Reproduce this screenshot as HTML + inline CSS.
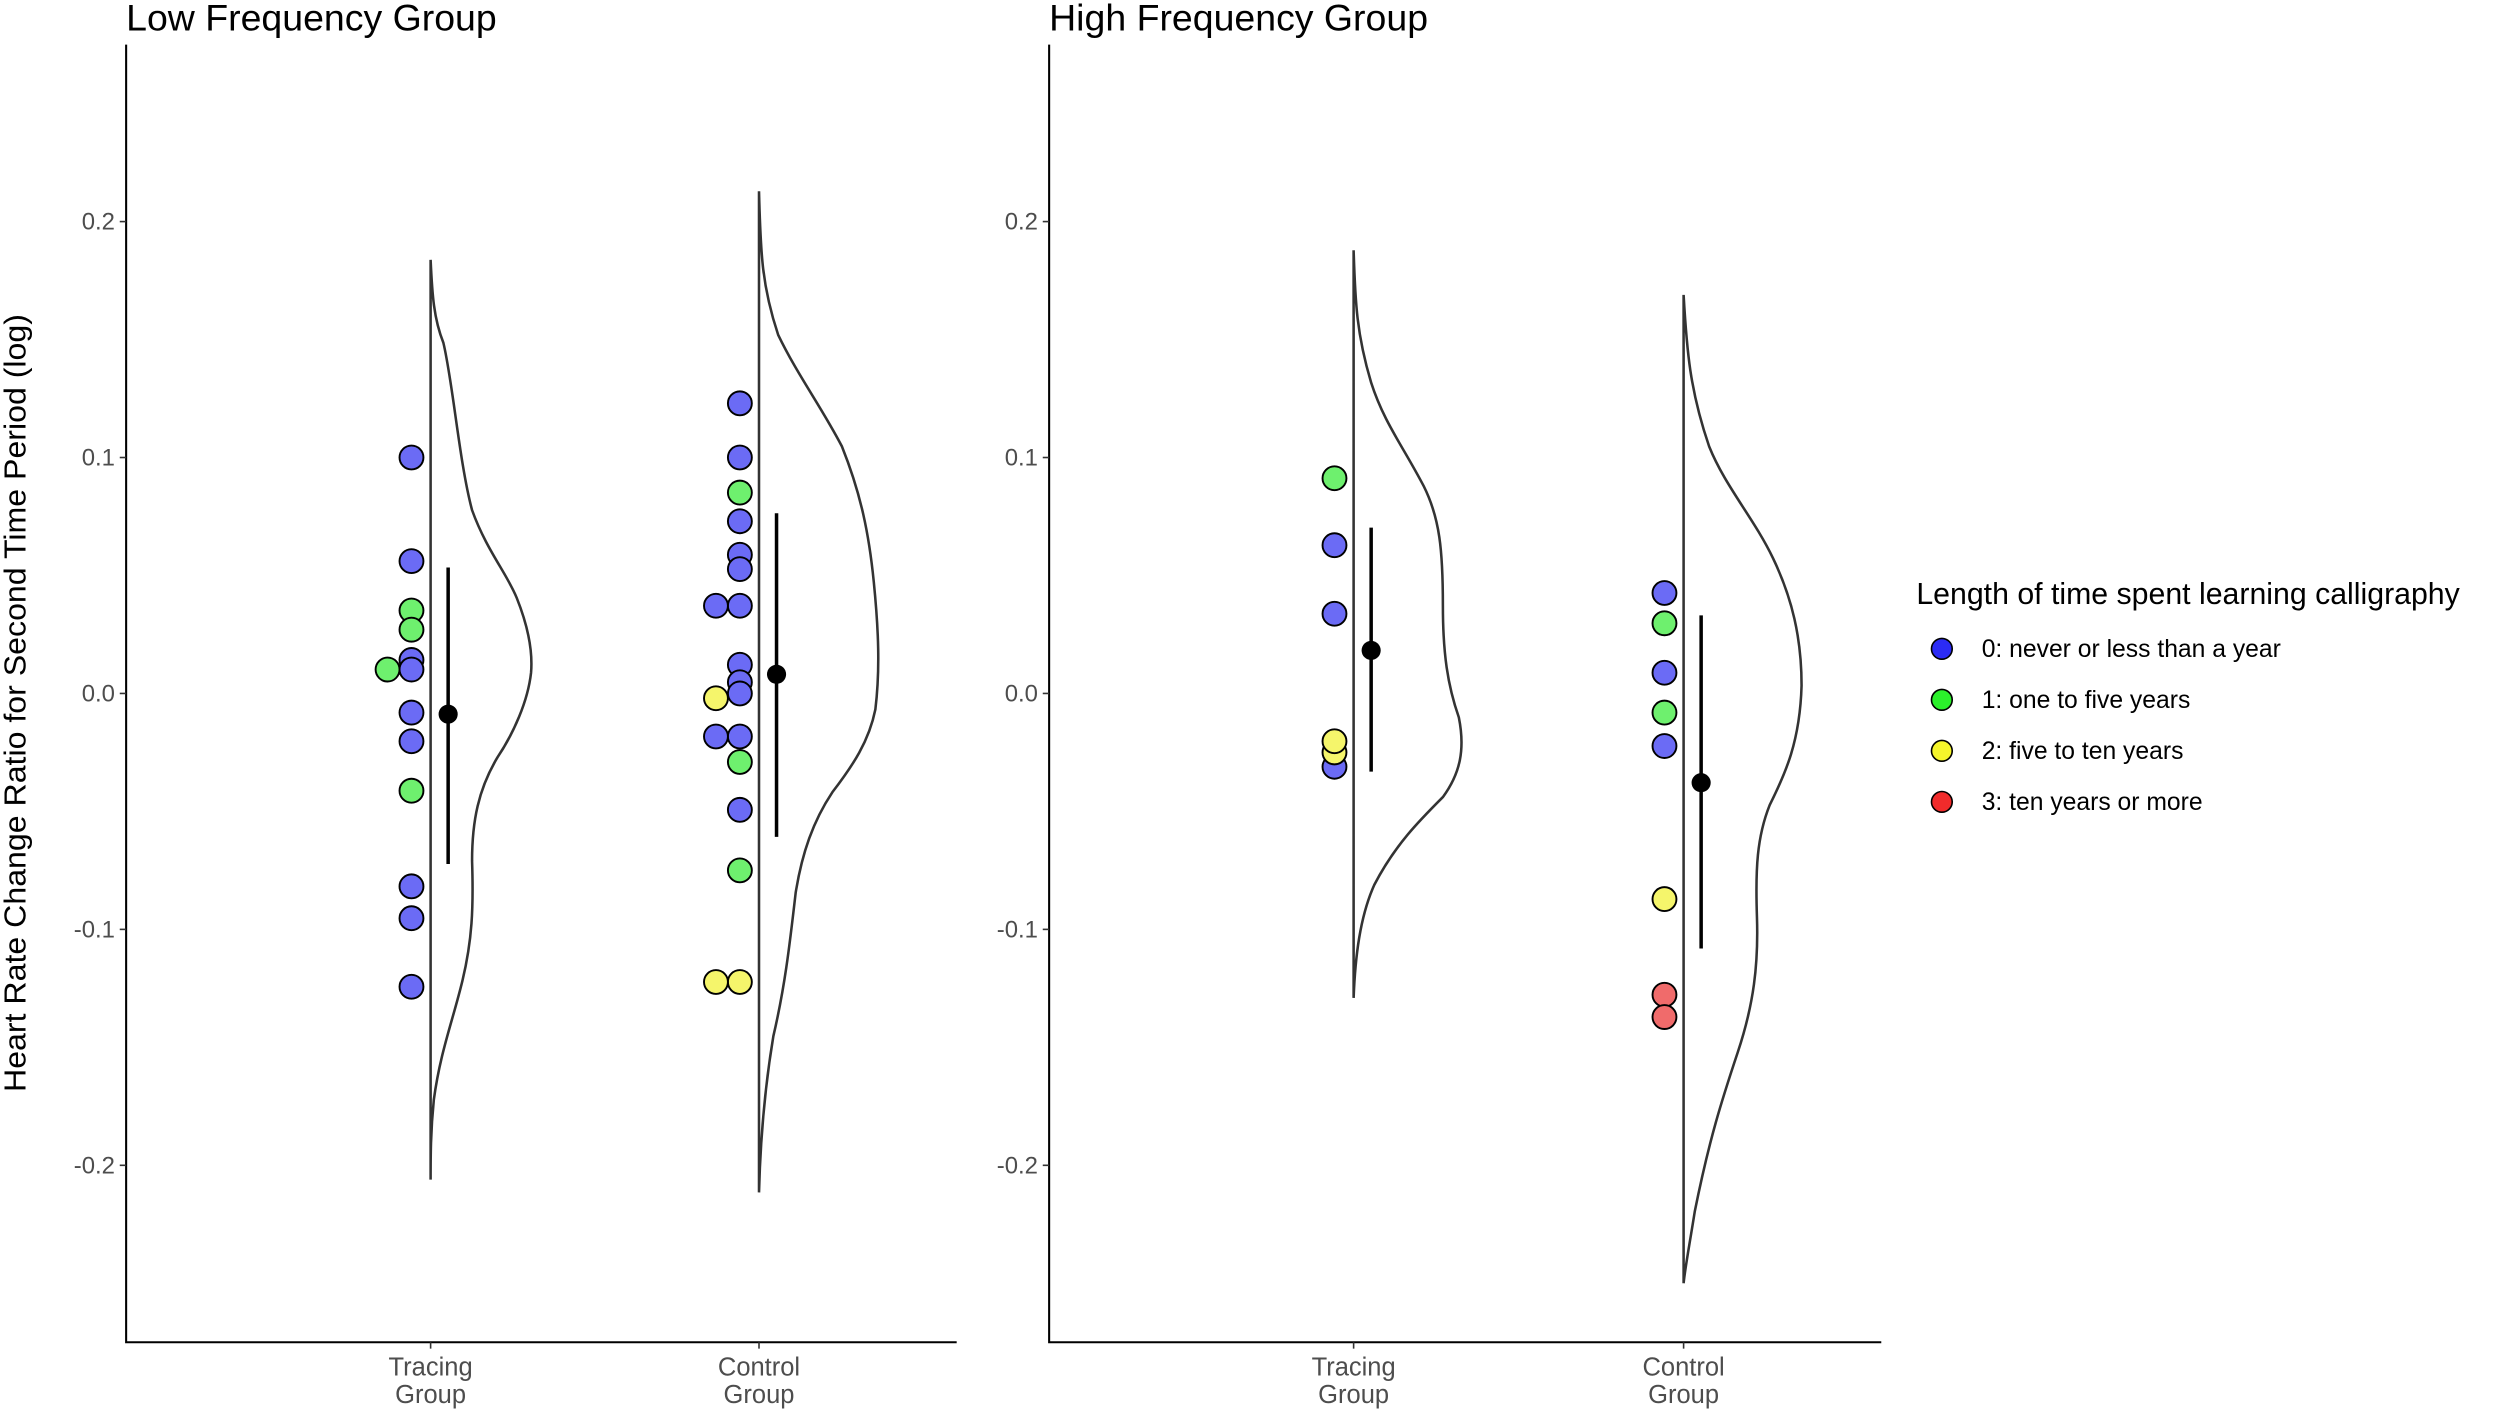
<!DOCTYPE html>
<html><head><meta charset="utf-8"><style>
html,body{margin:0;padding:0;background:#fff;}
svg{display:block;}
text{font-family:"Liberation Sans",sans-serif;}
</style></head><body>
<svg width="2500" height="1414" viewBox="0 0 1568 887" xmlns="http://www.w3.org/2000/svg">
<rect width="1568" height="887" fill="#fff"/>
<text x="79" y="19" font-size="23.5" fill="#000">Low Frequency Group</text>
<text x="658" y="19" font-size="23.5" fill="#000">High Frequency Group</text>
<text transform="translate(16,441) rotate(-90)" text-anchor="middle" font-size="19" fill="#000" textLength="488" lengthAdjust="spacingAndGlyphs">Heart Rate Change Ratio for Second Time Period (log)</text>
<g stroke="#000" stroke-width="1.3" fill="none">
<polyline points="79,28 79,842 600,842"/>
<polyline points="658,28 658,842 1180,842"/>
</g>
<g stroke="#333" stroke-width="1">
<line x1="75" x2="79" y1="139" y2="139"/><line x1="75" x2="79" y1="287" y2="287"/><line x1="75" x2="79" y1="435" y2="435"/><line x1="75" x2="79" y1="583" y2="583"/><line x1="75" x2="79" y1="731" y2="731"/>
<line x1="654" x2="658" y1="139" y2="139"/><line x1="654" x2="658" y1="287" y2="287"/><line x1="654" x2="658" y1="435" y2="435"/><line x1="654" x2="658" y1="583" y2="583"/><line x1="654" x2="658" y1="731" y2="731"/>
<line x1="270" x2="270" y1="842" y2="846"/><line x1="476" x2="476" y1="842" y2="846"/>
<line x1="849" x2="849" y1="842" y2="846"/><line x1="1056" x2="1056" y1="842" y2="846"/>
</g>
<g font-size="15" fill="#4d4d4d" text-anchor="end">
<text x="72" y="144">0.2</text><text x="72" y="292">0.1</text><text x="72" y="440">0.0</text><text x="72" y="588">-0.1</text><text x="72" y="736">-0.2</text>
<text x="651" y="144">0.2</text><text x="651" y="292">0.1</text><text x="651" y="440">0.0</text><text x="651" y="588">-0.1</text><text x="651" y="736">-0.2</text>
</g>
<g font-size="16" fill="#4d4d4d" text-anchor="middle">
<text x="270" y="863">Tracing</text><text x="270" y="880">Group</text>
<text x="476" y="863">Control</text><text x="476" y="880">Group</text>
<text x="849" y="863">Tracing</text><text x="849" y="880">Group</text>
<text x="1056" y="863">Control</text><text x="1056" y="880">Group</text>
</g>
<g stroke="#333" stroke-width="1.6" fill="none" stroke-linejoin="round">
<path d="M270,163 L270,740 M270,163 C271,185 272,200 278,215 C284,240 288,290 296,320 C305,345 318,360 324,375 C332,395 334,410 333,422 C331,440 322,460 312,475 C300,495 296,515 296,540 C297,570 296,590 290,615 C284,640 276,660 272,690 C270,710 270,725 270,740"/>
<path d="M476,120 L476,748 M476,120 C477,160 478,180 488,210 C500,235 515,255 528,280 C540,310 545,335 548,365 C551,395 552,420 549,445 C545,465 535,480 522,497 C510,515 503,535 499,560 C495,595 492,620 485,650 C480,680 477,710 476,748"/>
<path d="M849,157 L849,626 M849,157 C850,190 851,210 860,240 C868,265 880,280 893,305 C903,325 905,345 905,380 C905,410 908,430 915,450 C919,470 916,485 905,500 C890,515 875,530 862,555 C853,575 850,600 849,626"/>
<path d="M1056,185 L1056,805 M1056,185 C1058,220 1060,245 1072,280 C1082,305 1100,325 1112,350 C1124,375 1130,400 1130,430 C1129,465 1120,485 1110,505 C1102,525 1101,545 1102,575 C1103,605 1100,630 1090,660 C1080,690 1072,715 1063,760 C1059,785 1057,795 1056,805"/>
</g>
<g stroke="#000" stroke-width="1.2">
<g fill="#6b6bf5">
<circle cx="258" cy="287" r="7.5"/><circle cx="258" cy="352" r="7.5"/><circle cx="258" cy="414" r="7.5"/><circle cx="258" cy="420" r="7.5"/><circle cx="258" cy="447" r="7.5"/><circle cx="258" cy="465" r="7.5"/><circle cx="258" cy="556" r="7.5"/><circle cx="258" cy="576" r="7.5"/><circle cx="258" cy="619" r="7.5"/>
<circle cx="464" cy="253" r="7.5"/><circle cx="464" cy="287" r="7.5"/><circle cx="464" cy="327" r="7.5"/><circle cx="464" cy="348" r="7.5"/><circle cx="464" cy="357" r="7.5"/><circle cx="464" cy="380" r="7.5"/><circle cx="464" cy="417" r="7.5"/><circle cx="464" cy="428" r="7.5"/><circle cx="464" cy="435" r="7.5"/><circle cx="464" cy="462" r="7.5"/><circle cx="464" cy="508" r="7.5"/>
<circle cx="449" cy="380" r="7.5"/><circle cx="449" cy="462" r="7.5"/>
<circle cx="837" cy="342" r="7.5"/><circle cx="837" cy="385" r="7.5"/><circle cx="837" cy="481" r="7.5"/>
<circle cx="1044" cy="372" r="7.5"/><circle cx="1044" cy="422" r="7.5"/><circle cx="1044" cy="468" r="7.5"/>
</g>
<g fill="#6ef06e">
<circle cx="258" cy="383" r="7.5"/><circle cx="258" cy="395" r="7.5"/><circle cx="258" cy="496" r="7.5"/><circle cx="243" cy="420" r="7.5"/>
<circle cx="464" cy="309" r="7.5"/><circle cx="464" cy="478" r="7.5"/><circle cx="464" cy="546" r="7.5"/>
<circle cx="837" cy="300" r="7.5"/>
<circle cx="1044" cy="391" r="7.5"/><circle cx="1044" cy="447" r="7.5"/>
</g>
<g fill="#f5f56b">
<circle cx="464" cy="616" r="7.5"/><circle cx="449" cy="438" r="7.5"/><circle cx="449" cy="616" r="7.5"/>
<circle cx="837" cy="472" r="7.5"/><circle cx="837" cy="465" r="7.5"/>
<circle cx="1044" cy="564" r="7.5"/>
</g>
<g fill="#f06b6b">
<circle cx="1044" cy="624" r="7.5"/><circle cx="1044" cy="638" r="7.5"/>
</g>
</g>
<g stroke="#000" stroke-width="2.2">
<line x1="281" x2="281" y1="356" y2="542"/><line x1="487" x2="487" y1="322" y2="525"/>
<line x1="860" x2="860" y1="331" y2="484"/><line x1="1067" x2="1067" y1="386" y2="595"/>
</g>
<g fill="#000">
<circle cx="281" cy="448" r="6"/><circle cx="487" cy="423" r="6"/><circle cx="860" cy="408" r="6"/><circle cx="1067" cy="491" r="6"/>
</g>
<text x="1202" y="379" font-size="19" fill="#000">Length of time spent learning calligraphy</text>
<g stroke="#000" stroke-width="1">
<circle cx="1218" cy="407" r="6.5" fill="#2b2bf5"/>
<circle cx="1218" cy="439" r="6.5" fill="#2bf02b"/>
<circle cx="1218" cy="471" r="6.5" fill="#f5f52b"/>
<circle cx="1218" cy="503" r="6.5" fill="#f02b2b"/>
</g>
<g font-size="15.5" fill="#000">
<text x="1243" y="412">0: never or less than a year</text>
<text x="1243" y="444">1: one to five years</text>
<text x="1243" y="476">2: five to ten years</text>
<text x="1243" y="508">3: ten years or more</text>
</g>
</svg>
</body></html>
